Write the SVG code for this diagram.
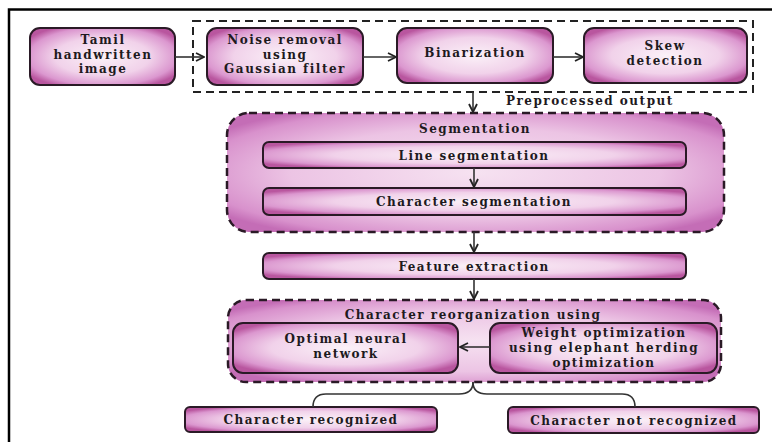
<svg xmlns="http://www.w3.org/2000/svg" width="772" height="442" viewBox="0 0 772 442">
<defs>
<radialGradient id="gBox" cx="0.5" cy="0.5" r="0.6">
<stop offset="0" stop-color="#fbf1f8"/>
<stop offset="0.55" stop-color="#f1d2ea"/>
<stop offset="0.85" stop-color="#db97cf"/>
<stop offset="1" stop-color="#b9569f"/>
</radialGradient>
<radialGradient id="gCont" cx="0.5" cy="0.5" r="0.62">
<stop offset="0" stop-color="#f6e2f1"/>
<stop offset="0.6" stop-color="#ecc4e4"/>
<stop offset="0.9" stop-color="#d891cc"/>
<stop offset="1" stop-color="#c46db6"/>
</radialGradient>
<marker id="arr" viewBox="0 0 10 10" refX="9" refY="5" markerWidth="10" markerHeight="10" markerUnits="userSpaceOnUse" orient="auto">
<path d="M1,1 L9,5 L1,9" fill="none" stroke="#222" stroke-width="1.8"/>
</marker>
<style>
.box{fill:url(#gBox);stroke:#2a1a26;stroke-width:2}
.cont{fill:url(#gCont);stroke:#2a1a26;stroke-width:2.5;stroke-dasharray:8 5}
.t{font-family:"DejaVu Serif","Liberation Serif",serif;font-weight:bold;font-size:12px;letter-spacing:1.5px;fill:#1e1a1e;text-anchor:middle}
.c{fill:none;stroke:#333;stroke-width:1.6}
</style>
</defs>
<rect width="772" height="442" fill="#fff"/>
<path d="M9,442 L9,9.5 L772,9.5" fill="none" stroke="#000" stroke-width="2.5"/>

<g id="preprocess">
<rect x="193" y="21" width="560" height="71" fill="none" stroke="#222" stroke-width="2" stroke-dasharray="8 5"/>
</g>
<g id="tamil">
<rect class="box" x="30" y="28" width="145" height="57" rx="10"/>
<text class="t" x="103" y="44">Tamil</text>
<text class="t" x="103" y="58.5">handwritten</text>
<text class="t" x="103" y="73">image</text>
</g>
<g id="noise">
<rect class="box" x="207" y="28" width="156" height="57" rx="10"/>
<text class="t" x="285" y="44">Noise removal</text>
<text class="t" x="285" y="58.5">using</text>
<text class="t" x="285" y="73">Gaussian filter</text>
</g>
<g id="binarization">
<rect class="box" x="397" y="28" width="156" height="55" rx="10"/>
<text class="t" x="475" y="57">Binarization</text>
</g>
<g id="skew">
<rect class="box" x="584" y="28" width="163" height="55" rx="10"/>
<text class="t" x="665" y="50">Skew</text>
<text class="t" x="665" y="65">detection</text>
</g>
<text class="t" x="506" y="105" style="text-anchor:start">Preprocessed output</text>

<g id="segmentation">
<rect class="cont" x="227" y="113" width="497" height="119" rx="22"/>
<text class="t" x="475" y="133">Segmentation</text>
</g>
<g id="line-seg">
<rect class="box" x="263" y="142" width="423" height="26" rx="6"/>
<text class="t" x="474" y="159.5">Line segmentation</text>
</g>
<g id="char-seg">
<rect class="box" x="263" y="188" width="423" height="27" rx="6"/>
<text class="t" x="474" y="206">Character segmentation</text>
</g>
<g id="feature">
<rect class="box" x="263" y="253" width="423" height="26" rx="6"/>
<text class="t" x="474" y="270.5">Feature extraction</text>
</g>

<g id="reorg">
<rect class="cont" x="228" y="300" width="493" height="82" rx="18"/>
<text class="t" x="473" y="319">Character reorganization using</text>
</g>
<g id="optimal">
<rect class="box" x="233" y="323" width="225" height="50" rx="10"/>
<text class="t" x="346" y="343">Optimal neural</text>
<text class="t" x="346" y="358">network</text>
</g>
<g id="weight">
<rect class="box" x="490" y="323" width="227" height="50" rx="10"/>
<text class="t" x="604" y="337">Weight optimization</text>
<text class="t" x="604" y="352">using elephant herding</text>
<text class="t" x="604" y="367">optimization</text>
</g>
<g id="recognized">
<rect class="box" x="185" y="407" width="252" height="25" rx="5"/>
<text class="t" x="311" y="424">Character recognized</text>
</g>
<g id="not-recognized">
<rect class="box" x="508" y="407" width="251" height="26" rx="5"/>
<text class="t" x="634" y="424.5">Character not recognized</text>
</g>

<g id="connectors">
<line class="c" x1="175" y1="57" x2="204" y2="57" marker-end="url(#arr)"/>
<line class="c" x1="363" y1="57" x2="396" y2="57" marker-end="url(#arr)"/>
<line class="c" x1="553" y1="57" x2="583" y2="57" marker-end="url(#arr)"/>
<line class="c" x1="473" y1="92" x2="473" y2="112" marker-end="url(#arr)"/>
<line class="c" x1="474" y1="168" x2="474" y2="187" marker-end="url(#arr)"/>
<line class="c" x1="474" y1="232" x2="474" y2="252" marker-end="url(#arr)"/>
<line class="c" x1="474" y1="279" x2="474" y2="299" marker-end="url(#arr)"/>
<line class="c" x1="490" y1="347" x2="460" y2="347" marker-end="url(#arr)"/>
<path class="c" d="M473,382 Q473,394 459,394 L326,394 Q313,394 313,407"/>
<path class="c" d="M473,382 Q473,394 487,394 L622,394 Q635,394 635,407"/>
</g>
</svg>
